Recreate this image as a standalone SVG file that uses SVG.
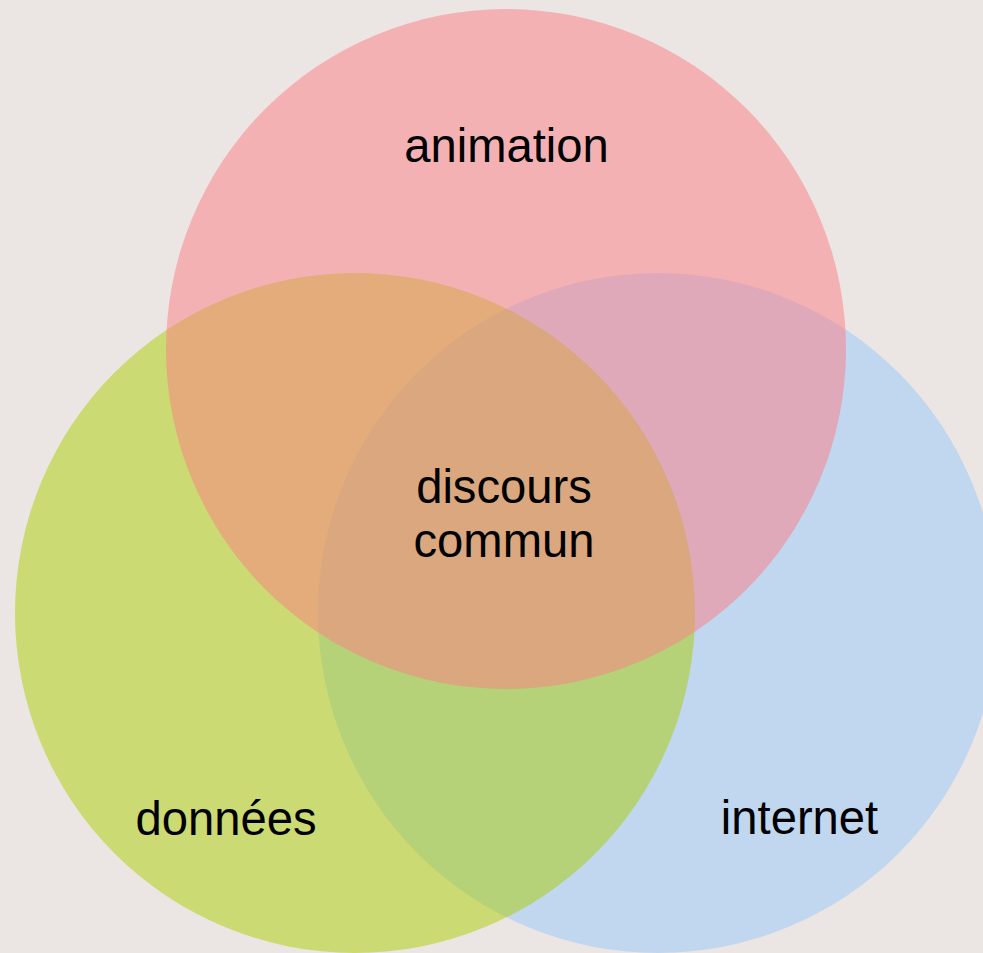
<svg xmlns="http://www.w3.org/2000/svg" width="983" height="953" viewBox="0 0 983 953">
<style>
.c{fill-opacity:0.5;stroke:none}
.t{font-family:"Liberation Sans",Arial,sans-serif;font-size:47.2px;fill:#000;text-anchor:middle}
</style>
<rect x="0" y="0" width="983" height="953" fill="#ebe6e3"/>
<g id="internet"><circle class="c" cx="658" cy="613" r="340" fill="#97c8fb"/><text class="t" x="799.5" y="834">internet</text></g>
<g id="donnees"><circle class="c" cx="355" cy="613" r="340" fill="#abce01"/><text class="t" x="226" y="835">données</text></g>
<g id="animation"><circle class="c" cx="506" cy="349" r="340" fill="#fd7c83"/><text class="t" x="506.5" y="162">animation</text></g>
<g id="discours"><text class="t" x="504" y="503">discours</text><text class="t" x="504" y="557">commun</text></g>
<g id="connectors"/>
</svg>
